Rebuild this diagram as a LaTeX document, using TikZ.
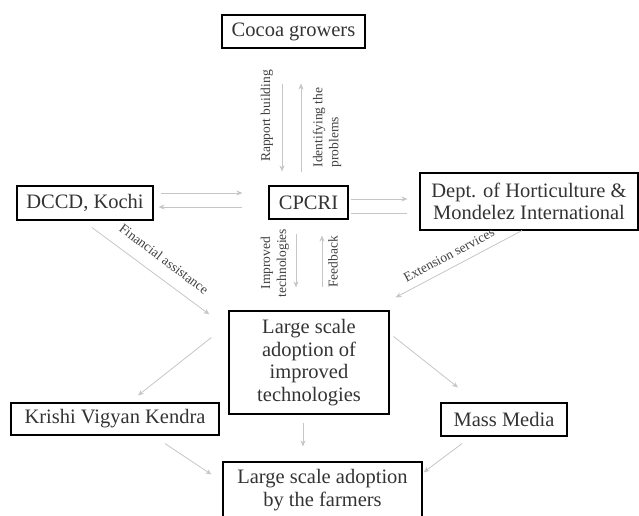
\documentclass[tikz,border=0pt]{standalone}
\usepackage{fontspec}
\setmainfont{Liberation Serif}
\usepackage{tikz}
\usetikzlibrary{arrows.meta}
\tikzset{
  bx/.style={draw,line width=1.1pt,text=black!80,align=center,inner sep=2pt,font=\fontsize{20.5}{22.5}\selectfont},
  ar/.style={draw=gray!45,line width=0.8pt,-{Stealth[length=6pt,width=5pt]}},
  ln/.style={draw=gray!45,line width=0.8pt},
  lb/.style={text=black!75,align=center,inner sep=1pt,font=\fontsize{13.5}{16}\selectfont}
}

\begin{document}
\begin{tikzpicture}[x=1pt,y=-1pt]
\useasboundingbox (0,0) rectangle (639,515);
\node[bx,minimum width=143pt,minimum height=33pt] (grow) at (293.5,31.5) {Cocoa growers};
\node[bx,minimum width=79pt,minimum height=33pt] (cpcri) at (308.5,202.5) {CPCRI};
\node[bx,minimum width=136pt,minimum height=34pt] (dccd) at (85,203) {DCCD, Kochi};
\node[bx,minimum width=218pt,minimum height=57pt] (dept) at (529,201.5) {Dept. of Horticulture \&\\Mondelez International};
\node[bx,minimum width=160pt,minimum height=103pt] (adopt) at (309,362.5) {Large scale\\adoption of\\improved\\technologies};
\node[bx,minimum width=208pt,minimum height=32pt] (kvk) at (115,419) {Krishi Vigyan Kendra};
\node[bx,minimum width=126pt,minimum height=33pt] (media) at (504,419.5) {Mass Media};
\node[bx,minimum width=199pt,minimum height=56pt] (farm) at (322.5,490) {Large scale adoption\\by the farmers};
\draw[ar,shorten <=35pt,shorten >=14pt] ([xshift=-11.5pt]grow.south) -- ([xshift=-26.5pt]cpcri.north);
\draw[ar,shorten <=13pt,shorten >=35pt] ([xshift=-7.5pt]cpcri.north) -- ([xshift=7.5pt]grow.south);
\node[lb,rotate=90] (rap) at (267,116) {Rapport building};
\node[lb,rotate=90,align=left] (idp) at (327,127.5) {Identifying the\\problems};
\draw[ar,shorten <=7pt,shorten >=26pt] ([yshift=10pt]dccd.east) -- ([yshift=9.5pt]cpcri.west);
\draw[ar,shorten <=26pt,shorten >=5pt] ([yshift=-4.5pt]cpcri.west) -- ([yshift=-4pt]dccd.east);
\draw[ar,shorten <=2pt,shorten >=12pt] ([yshift=3.5pt]cpcri.east) -- ([yshift=2.5pt]dept.west);
\draw[ln,shorten <=2pt,shorten >=12pt] ([yshift=-10.5pt]cpcri.east) -- ([yshift=-11.5pt]dept.west);
\draw[ar,shorten <=14pt,shorten >=23pt] ([xshift=-12.5pt]cpcri.south) -- ([xshift=-13pt]adopt.north);
\draw[ar,shorten <=23pt,shorten >=16pt] ([xshift=13pt]adopt.north) -- ([xshift=13.5pt]cpcri.south);
\node[lb,rotate=90] (imp) at (275,263) {Improved\\technologies};
\node[lb,rotate=90] (fb) at (333,262) {Feedback};
\draw[ar] ([xshift=7pt,yshift=-7pt]dccd.south) -- ([xshift=-19pt,yshift=-4pt]adopt.north west);
\node[lb,rotate=-37] (fin) at (164,259) {Financial assistance};
\draw[ar] ([xshift=-7pt]dept.south) -- ([xshift=6pt,yshift=13pt]adopt.north east);
\node[lb,rotate=28] (ext) at (449,255) {Extension services};
\draw[ar] ([xshift=-17pt,yshift=-27pt]adopt.north west) -- ([xshift=23pt,yshift=7pt]kvk.north);
\draw[ar] ([xshift=4pt,yshift=-26pt]adopt.north east) -- ([xshift=-46pt,yshift=15pt]media.north);
\draw[ar] ([xshift=-6pt,yshift=-8pt]adopt.south) -- ([xshift=-19.5pt,yshift=15pt]farm.north);
\draw[ar] ([xshift=50pt,yshift=-8pt]kvk.south) -- ([xshift=-11pt,yshift=-13pt]farm.north west);
\draw[ar] ([xshift=-42pt,yshift=-7pt]media.south) -- ([xshift=1pt,yshift=-11pt]farm.north east);
\end{tikzpicture}
\end{document}
